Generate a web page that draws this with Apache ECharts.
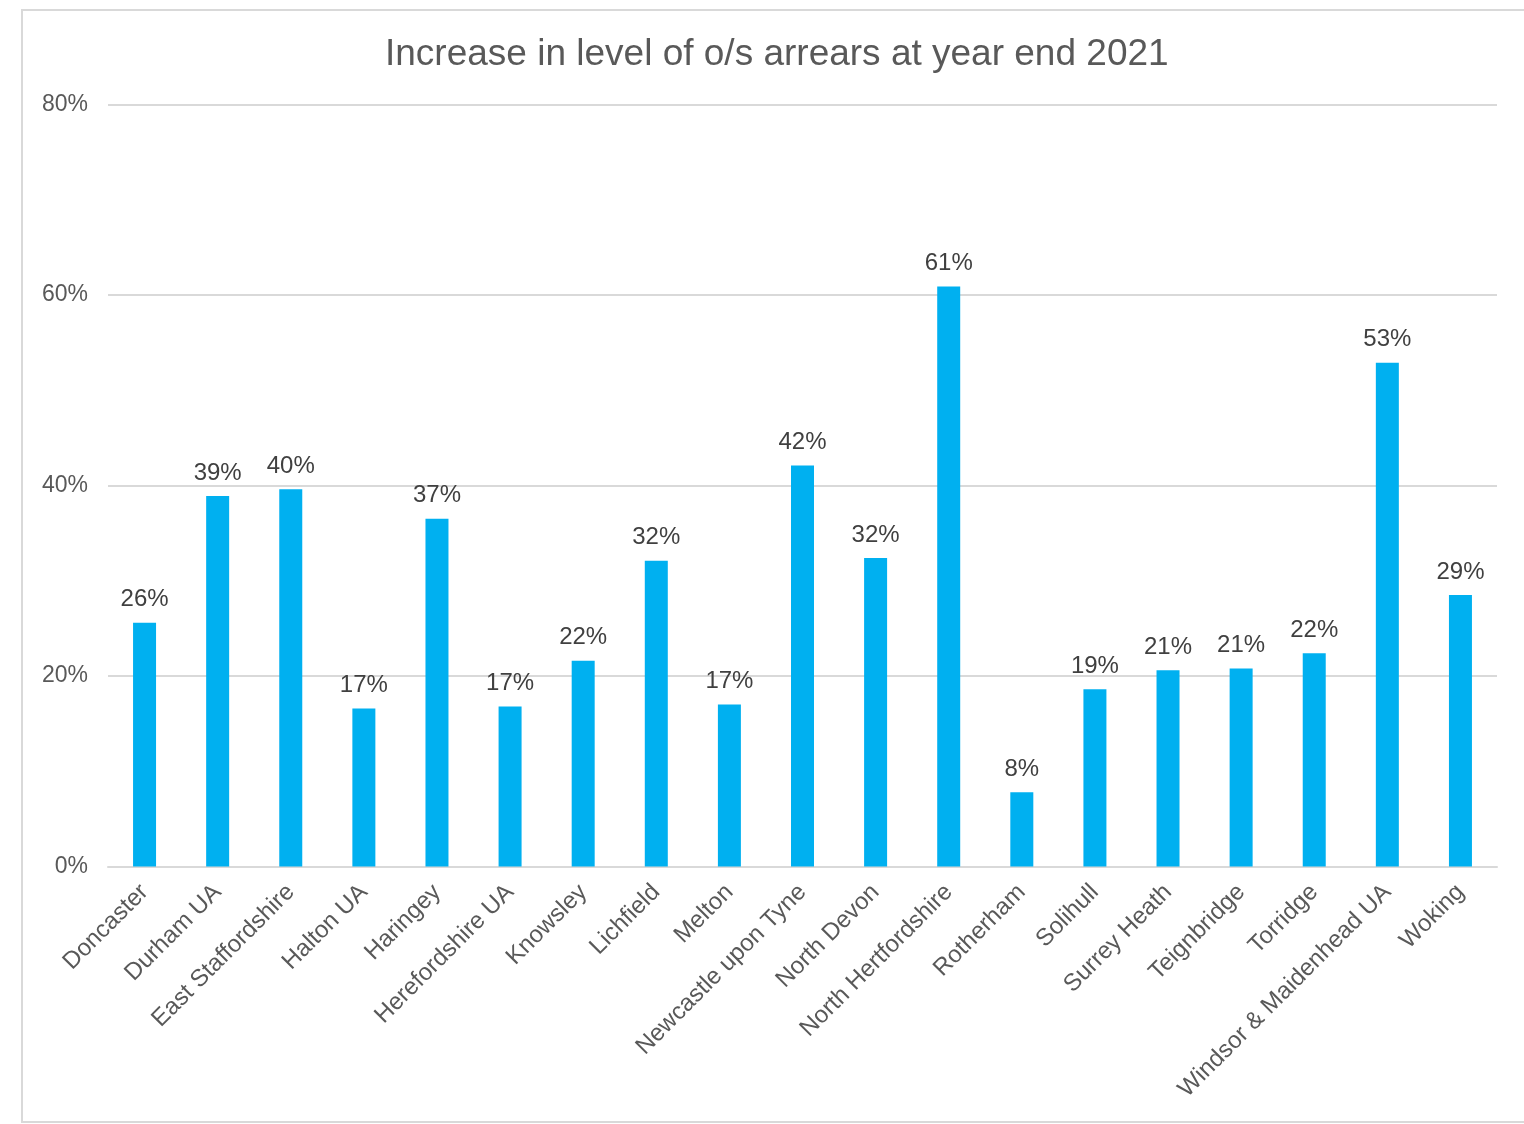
<!DOCTYPE html>
<html>
<head>
<meta charset="utf-8">
<script src="https://cdn.jsdelivr.net/npm/echarts@6/dist/echarts.min.js"></script>
<style>
html,body{margin:0;padding:0;background:#fff;}
#chart{width:1524px;height:1124px;}
</style>
</head>
<body>
<div id="chart"></div>
<script>
var titleText = 'Increase in level of o/s arrears at year end 2021';
var categories = ['Doncaster','Durham UA','East Staffordshire','Halton UA','Haringey','Herefordshire UA','Knowsley','Lichfield','Melton','Newcastle upon Tyne','North Devon','North Hertfordshire','Rotherham','Solihull','Surrey Heath','Teignbridge','Torridge','Windsor & Maidenhead UA','Woking'];
var values = [25.6, 38.9, 39.6, 16.6, 36.5, 16.8, 21.6, 32.1, 17.0, 42.1, 32.4, 60.9, 7.8, 18.6, 20.6, 20.8, 22.4, 52.9, 28.5];
var yTicks = [0, 20, 40, 60, 80];

var chart = echarts.init(document.getElementById('chart'));
var font = '"Liberation Sans", Arial, sans-serif';
chart.setOption({
  animation: false,
  backgroundColor: '#ffffff',
  textStyle: {fontFamily: font},
  title: {
    text: titleText,
    left: 380,
    top: 31,
    textStyle: {fontFamily: font, fontSize: 37, fontWeight: 'normal', color: '#595959'}
  },
  graphic: [{
    type: 'rect',
    shape: {x: 22, y: 10, width: 1530, height: 1112},
    style: {fill: 'none', stroke: '#d9d9d9', lineWidth: 2},
    silent: true
  }],
  grid: {left: 108, right: 27, top: 104.5, bottom: 257.5, containLabel: false},
  xAxis: {
    type: 'category',
    data: categories,
    axisLine: {lineStyle: {color: '#d9d9d9', width: 2}},
    axisTick: {show: false},
    axisLabel: {rotate: 45, interval: 0, margin: 22, fontSize: 24, color: '#595959', fontFamily: font}
  },
  yAxis: {
    type: 'value',
    min: yTicks[0],
    max: yTicks[yTicks.length - 1],
    interval: yTicks[1] - yTicks[0],
    axisLine: {show: false},
    axisTick: {show: false},
    splitLine: {lineStyle: {color: '#d9d9d9', width: 2}},
    axisLabel: {formatter: '{value}%', margin: 20, fontSize: 23, color: '#595959', fontFamily: font, padding: [4, 0, 0, 0]}
  },
  series: [{
    type: 'bar',
    data: values,
    barWidth: 23,
    itemStyle: {color: '#00B0F0'},
    label: {
      show: true,
      position: 'top',
      distance: 11,
      fontSize: 24,
      color: '#404040',
      fontFamily: font,
      formatter: function (p) { return Math.round(p.value) + '%'; }
    }
  }]
});
</script>
</body>
</html>
